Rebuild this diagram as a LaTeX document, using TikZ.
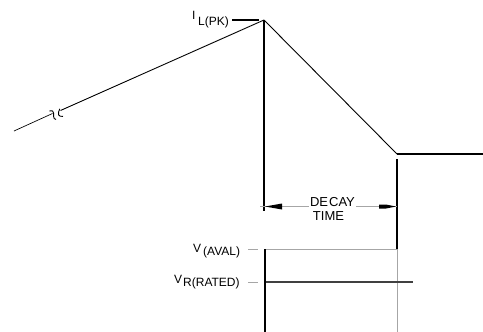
\documentclass[tikz,border=0pt]{standalone}
\usepackage{fontspec}
\setmainfont{Liberation Sans}
\begin{document}
\begin{tikzpicture}[x=1pt,y=-1pt,
  lbl/.style={inner sep=0pt,anchor=base west,font=\fontsize{12}{12}\selectfont},
  dlbl/.style={inner sep=0pt,anchor=base,font=\fontsize{13}{13}\selectfont},
  wave/.style={line width=0.9pt,black},
  thick2/.style={line width=2pt,black},
  thin/.style={line width=0.6pt,gray!70},
  brk/.style={line width=0.9pt,black},
  arrowfill/.style={fill=black,draw=none}]
\useasboundingbox (0,0) rectangle (483,332);
% key coordinates
\coordinate (start) at (14,131);
\coordinate (bkA) at (52.5,113.5);
\coordinate (bkB) at (60.5,110.5);
\coordinate (peak) at (264,20);
\coordinate (knee) at (397,154);
\coordinate (endR) at (483,154);
\coordinate (pkTickL) at (232,20);
\coordinate (pkTickR) at (259,20);
\coordinate (peakFoot) at (264,211);
\coordinate (rvTop) at (397,159);
\coordinate (rvBot) at (397,248.5);
\coordinate (dimL) at (260,206.5);
\coordinate (dimR) at (397,206.5);
\coordinate (avL) at (264,249);
\coordinate (avR) at (397,249);
\coordinate (avTickL) at (248,249);
\coordinate (avTickR) at (258,249);
\coordinate (vrTickL) at (248,282);
\coordinate (vrTickR) at (258,282);
\coordinate (vrL) at (265,282);
\coordinate (vrR) at (413,282);
\coordinate (blTop) at (265,249);
\coordinate (blBot) at (265,332);
\coordinate (grTop) at (397,249);
\coordinate (grBot) at (397,332);
% rising current with break
\draw[line width=0.7pt] (start) -- (bkA);
\draw[wave] (bkB) -- (peak);
\draw[brk] (49.5,110.8) .. controls (52,110.3) and (53.6,111) .. (53.6,113) -- (53.6,116.5) .. controls (53.6,118.3) and (54.5,119.2) .. (56,119.5);
\draw[brk] (59.8,108.8) .. controls (58.6,110.5) and (58.3,113.2) .. (58.6,114.8) .. controls (59,116.2) and (60.8,116.6) .. (63,116.4);
% decay
\draw[wave] (peak) -- (knee);
\draw[thick2] (knee) -- (endR);
\draw[thick2] (pkTickL) -- (pkTickR);
\draw[line width=1.3pt] (peak) -- (peakFoot);
\draw[line width=1.5pt] (rvTop) -- (rvBot);
% dimension line
\draw[thin] (dimL) -- (dimR);
\fill[arrowfill] (265,206.5) -- (282,203.5) -- (282,209.5) -- cycle;
\fill[arrowfill] (396,206.5) -- (386,204.5) -- (379,204.5) -- (379,208.5) -- (386,208.5) -- cycle;
\node[dlbl,fill=white,inner sep=1pt] (decay) at (332.5,206) {DE\kern1pt CAY};
\node[dlbl] (time) at (328.5,220) {TIME};
% voltage part
\draw[thin] (avL) -- (avR);
\draw[thin] (avTickL) -- (avTickR);
\draw[thin] (vrTickL) -- (vrTickR);
\draw[thin] (grTop) -- (grBot);
\draw[line width=1.3pt,black!75] (vrL) -- (vrR);
\draw[thick2] (blTop) -- (blBot);
% labels
\node[lbl] (iI) at (192,19.5) {I};
\node[lbl] (iSub) at (198,25.5) {L(PK)};
\node[lbl] (vA) at (193,252) {V};
\node[lbl] (vASub) at (203,255.5) {(AVAL)};
\node[lbl] (vR) at (174,283) {V};
\node[lbl] (vRSub) at (183,286) {R(RATED)};
\end{tikzpicture}
\end{document}
